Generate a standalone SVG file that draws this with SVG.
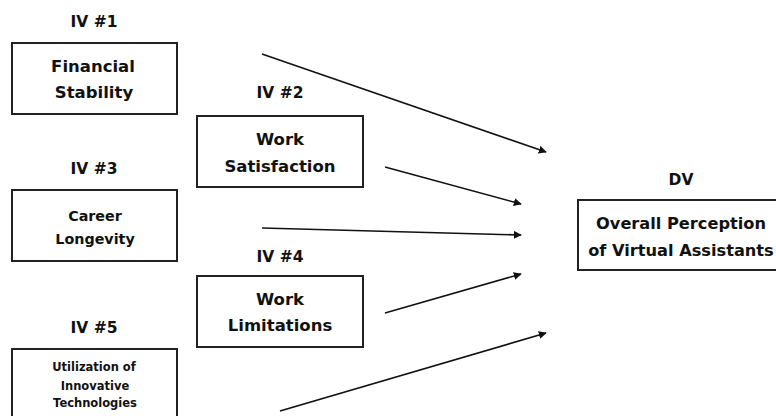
<svg xmlns="http://www.w3.org/2000/svg" width="776" height="416" viewBox="0 0 776 416">
<defs>
<style>
.box{fill:#fff;stroke:#222;stroke-width:2}
.t{font-family:"DejaVu Sans","Liberation Sans",Arial,sans-serif;font-weight:bold;fill:#111;text-anchor:middle}
.lbl{font-size:15.5px}
.edge{stroke:#111;stroke-width:1.6;fill:none;marker-end:url(#ah)}
</style>
<marker id="ah" viewBox="0 0 10 10" refX="9" refY="5" markerWidth="5" markerHeight="5" orient="auto" markerUnits="strokeWidth">
<path d="M0,0 L10,5 L0,10 z" fill="#111"/>
</marker>
</defs>
<rect width="776" height="416" fill="#fff"/>
<g id="iv1">
<text class="t lbl" x="94" y="27">IV #1</text>
<rect class="box" x="12" y="43" width="165" height="71"/>
<text class="t" font-size="16.5" x="93" y="72">Financial</text>
<text class="t" font-size="16.5" x="94" y="98">Stability</text>
</g>
<g id="iv2">
<text class="t lbl" x="280" y="98">IV #2</text>
<rect class="box" x="197" y="116" width="166" height="71"/>
<text class="t" font-size="16.5" x="280" y="145">Work</text>
<text class="t" font-size="16.5" x="280" y="172">Satisfaction</text>
</g>
<g id="iv3">
<text class="t lbl" x="94" y="174">IV #3</text>
<rect class="box" x="12" y="190" width="165" height="71"/>
<text class="t" font-size="14.3" x="95" y="221">Career</text>
<text class="t" font-size="14.3" x="95" y="244">Longevity</text>
</g>
<g id="iv5">
<text class="t lbl" x="94" y="333">IV #5</text>
<rect class="box" x="12" y="349" width="165" height="90"/>
<text class="t" font-size="11.5" x="94" y="371">Utilization of</text>
<text class="t" font-size="11.5" x="95" y="390">Innovative</text>
<text class="t" font-size="11.5" x="95" y="407">Technologies</text>
</g>
<g id="iv4">
<text class="t lbl" x="280" y="262">IV #4</text>
<rect class="box" x="197" y="276" width="166" height="71"/>
<text class="t" font-size="16.5" x="280" y="305">Work</text>
<text class="t" font-size="16.5" x="280" y="331">Limitations</text>
</g>
<g id="dv">
<text class="t lbl" x="681" y="185">DV</text>
<rect class="box" x="578" y="200" width="220" height="70"/>
<text class="t" font-size="16.2" x="681" y="229">Overall Perception</text>
<text class="t" font-size="16.2" x="681" y="256">of Virtual Assistants</text>
</g>
<g id="connectors">
<line class="edge" x1="262" y1="54" x2="546" y2="152"/>
<line class="edge" x1="385" y1="167" x2="521" y2="204"/>
<line class="edge" x1="262" y1="228" x2="521" y2="235"/>
<line class="edge" x1="385" y1="313" x2="521" y2="274"/>
<line class="edge" x1="280" y1="411" x2="546" y2="333"/>
</g>
</svg>
